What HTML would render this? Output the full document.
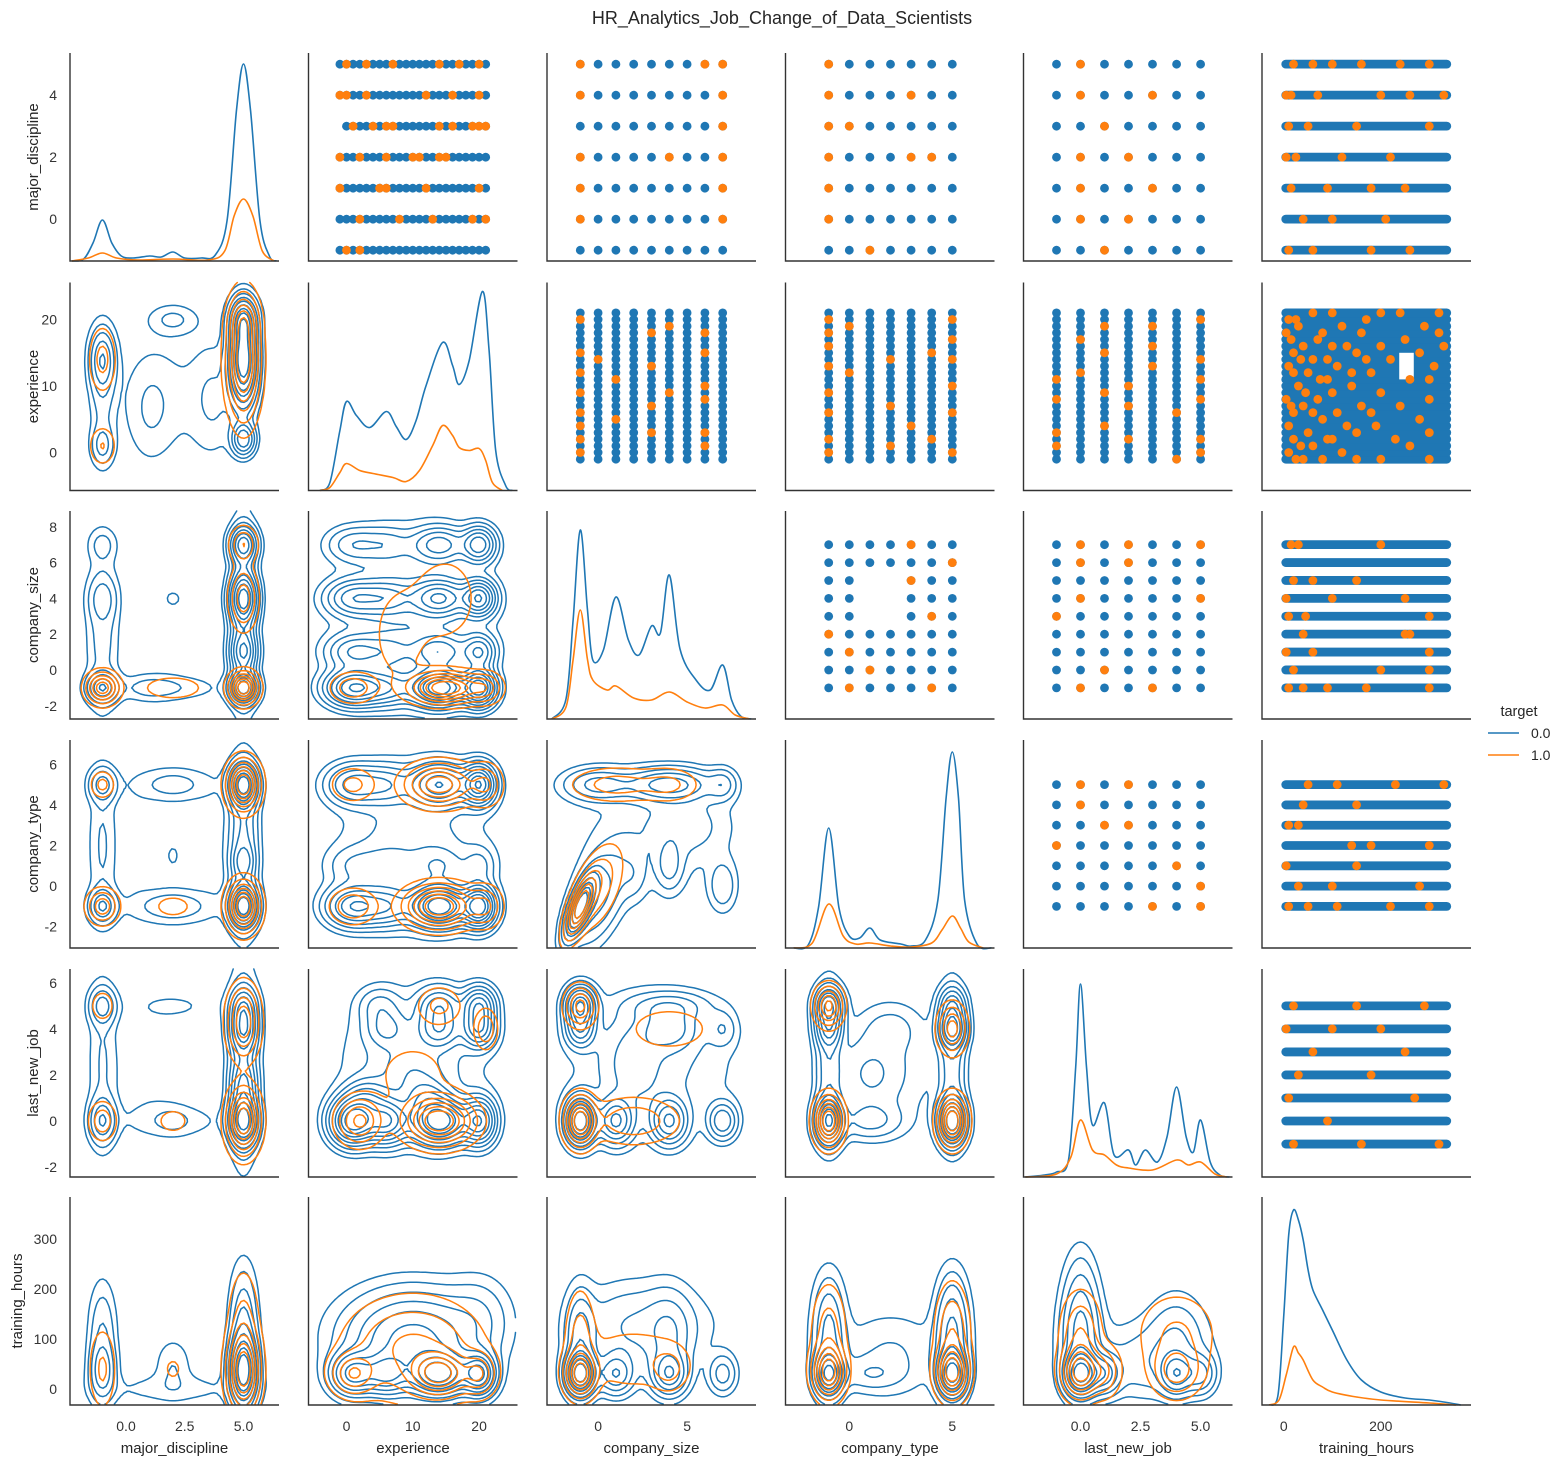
<!DOCTYPE html>
<html><head><meta charset="utf-8"><title>HR pairplot</title>
<style>
html,body{margin:0;padding:0;background:#fff;}
svg{display:block;font-family:"Liberation Sans",sans-serif;}
</style></head>
<body>
<svg id="chart" width="1565" height="1466" viewBox="0 0 1565 1466" xmlns="http://www.w3.org/2000/svg">
<text x="782" y="24" font-size="18" text-anchor="middle" fill="#262626">HR_Analytics_Job_Change_of_Data_Scientists</text>
<g>
<text x="1519" y="716" font-size="14.5" text-anchor="middle" fill="#262626">target</text>
<line x1="1488" y1="733" x2="1519" y2="733" stroke="#1f77b4" stroke-width="1.6"/>
<text x="1531" y="738" font-size="14" fill="#262626">0.0</text>
<line x1="1488" y1="755" x2="1519" y2="755" stroke="#ff7f0e" stroke-width="1.6"/>
<text x="1531" y="760" font-size="14" fill="#262626">1.0</text>
</g>
</svg>
<script>
const varNames = ["major_discipline","experience","company_size","company_type","last_new_job","training_hours"];
const xTicks = [[0,2.5,5],[0,10,20],[0,5],[0,5],[0,2.5,5],[0,200]];
const xTickLabels = [["0.0","2.5","5.0"],["0","10","20"],["0","5"],["0","5"],["0.0","2.5","5.0"],["0","200"]];
const yTicks = [[0,2,4],[0,10,20],[-2,0,2,4,6,8],[-2,0,2,4,6],[-2,0,2,4,6],[0,100,200,300]];
const xDomains = [[-2.38,6.51],[-5.73,25.79],[-2.87,8.87],[-3.1,7.05],[-2.375,6.33],[-45,386]];
const yDomains = [[-1.35,5.36],[-5.71,25.57],[-2.74,8.88],[-3.05,7.2],[-2.43,6.6],[-32,384]];
const levelsMd = [-1,0,1,2,3,4,5];
const levelsExp = [-1,0,1,2,3,4,5,6,7,8,9,10,11,12,13,14,15,16,17,18,19,20,21];
const levelsCs = [-1,0,1,2,3,4,5,6,7];
const levelsCt = [-1,0,1,2,3,4,5];
const levelsLnj = [-1,0,1,2,3,4,5];
const thRange = [4,336];

// diagonal KDE curves: [value, density]
const kde0Blue = [[-2.3,0],[-1.8,2],[-1.4,18],[-1,41],[-0.6,18],[-0.2,5],[0.3,3],[1,5],[1.5,4],[2,9],[2.5,3],[3.2,3],[3.8,6],[4.3,40],[4.7,150],[5,197],[5.3,150],[5.7,40],[6.1,5],[6.4,0]];
const kde0Orange = [[-2.3,0],[-1.6,3],[-1,8],[-0.4,3],[0.5,1],[2,2],[3.5,1],[4.2,10],[4.6,45],[5,62],[5.4,45],[5.8,10],[6.3,0]];
const kde1Blue = [[-4,0],[-2.5,8],[-1,60],[0,89],[1.5,75],[3.5,63],[6,79],[7.5,64],[9,51],[10.5,70],[12,105],[14.5,148],[16,125],[17,106],[18.5,130],[20.5,199],[21.5,140],[22.5,40],[24,5],[25,0]];
const kde1Orange = [[-4,0],[-2.5,3],[-1,18],[0,27],[2,20],[4,17],[7,13],[9,9],[11,20],[13,45],[14.5,65],[16,55],[17,43],[18.5,40],[20,42],[21,30],[22,8],[23.5,0]];
const kde2Blue = [[-2.6,0],[-1.8,20],[-1.4,100],[-1,189],[-0.6,110],[-0.3,59],[0.3,69],[1,122],[1.7,79],[2.3,64],[3,93],[3.5,86],[4,144],[4.6,70],[5.5,39],[6.3,29],[7,54],[7.5,19],[8,3],[8.6,0]];
const kde2Orange = [[-2.6,0],[-1.8,12],[-1.4,60],[-1,109],[-0.6,60],[-0.3,39],[0.5,29],[1,33],[2,21],[3,19],[4,27],[5,17],[6,11],[7,14],[7.7,4],[8.5,0]];
const kde3Blue = [[-2.7,0],[-2,3],[-1.5,40],[-1,120],[-0.5,40],[0,12],[0.5,10],[1,20],[1.5,8],[2.5,4],[3,2],[3.7,8],[4.3,48],[4.7,150],[5,196],[5.3,150],[5.6,48],[6.2,4],[6.9,0]];
const kde3Orange = [[-2.7,0],[-1.8,5],[-1,44],[-0.3,12],[0.3,4],[1,5],[2,2],[3,1],[4,5],[4.5,18],[5,32],[5.4,20],[5.8,6],[6.5,0]];
const kde4Blue = [[-2.3,0],[-1.5,2],[-1,5],[-0.5,17],[-0.2,110],[0,193],[0.25,110],[0.5,52],[1,74],[1.4,22],[2,27],[2.3,12],[2.7,27],[3.2,15],[3.6,40],[4,90],[4.4,40],[4.7,25],[5,57],[5.4,15],[5.8,2],[6.2,0]];
const kde4Orange = [[-2.3,0],[-1,3],[-0.4,20],[0,57],[0.5,27],[1,22],[1.5,12],[2,9],[3,7],[4,17],[4.5,12],[5,15],[5.6,3],[6.1,0]];
const kde5Blue = [[-30,0],[-12,10],[0,90],[10,170],[20,195],[30,185],[40,165],[50,135],[60,115],[80,95],[100,75],[130,45],[160,25],[200,13],[250,7],[300,5],[330,3],[365,0]];
const kde5Orange = [[-30,0],[-10,5],[5,30],[20,58],[30,52],[40,45],[60,25],[80,18],[100,13],[150,8],[200,5],[300,2],[355,0]];
const kdeDiag = [[kde0Blue,kde0Orange],[kde1Blue,kde1Orange],[kde2Blue,kde2Orange],[kde3Blue,kde3Orange],[kde4Blue,kde4Orange],[kde5Blue,kde5Orange]];

// lower-triangle KDE mixtures: [cx, cy, sx, sy, weight, rho]
const mix10B = [[5,14,0.35,4,8],[5,2,0.3,1.5,3],[5,20,0.35,2,4],[-1,14,0.35,3,2],[-1,1,0.3,1.8,1],[2,20,0.6,1.5,0.3],[1,6,0.6,5,0.3],[4,8,0.6,5,0.3],[1.5,8,1.2,6,0.35],[3.5,8,0.6,6,0.3],[2,20,0.8,1.5,0.3],[-1,8,0.35,6,0.6]];
const mix10O = [[5,14,0.4,5,3],[5,20,0.35,2,1],[-1,14,0.35,3,0.6],[-1,1,0.35,1.8,0.5],[2,14,0.1,0.3,0.02]];
const mix20B = [[5,-1,0.35,0.5,5],[5,4,0.35,0.8,4],[5,7,0.35,0.6,3],[5,1,0.35,0.7,2],[-1,-1,0.4,0.5,2],[-1,4,0.4,0.8,0.6],[-1,7,0.4,0.6,0.4],[2,7,0.4,0.4,0.15],[2,4,0.4,0.5,0.2],[1,-1,0.8,0.5,0.3],[2,1.5,1,1,0.1],[-1,2,0.45,3,0.5],[5,3,0.35,3,1.5],[2,-1,1.5,0.5,0.3]];
const mix20O = [[-1,-1,0.4,0.5,1.5],[5,-1,0.35,0.5,2],[2,-1,0.8,0.4,0.3],[5,4,0.35,1,0.8],[5,7,0.35,0.6,0.6]];
const mix30B = [[5,5,0.35,0.6,5],[5,-1,0.35,0.6,5],[5,1.2,0.3,0.5,1],[-1,5,0.35,0.5,1.2],[-1,-1,0.35,0.5,1.5],[2,1.5,0.3,0.6,0.2],[2,-1,0.8,0.5,0.2],[2,5,0.8,0.5,0.2],[-1,2,0.4,2.5,0.4],[5,2,0.4,2.5,1.2],[2,5,1.5,0.6,0.3],[2,-1,1.5,0.6,0.4],[0.5,2,0.4,1.5,0.1],[3.7,2,0.4,1.5,0.1]];
const mix30O = [[5,5,0.4,0.7,2],[5,-1,0.4,0.7,2],[-1,5,0.3,0.4,0.4],[-1,-1,0.4,0.5,0.8],[2,-1,0.6,0.4,0.2]];
const mix40B = [[5,0,0.35,0.6,5],[5,4,0.35,0.6,3],[5,5,0.35,0.5,2],[5,1.5,0.35,0.7,1.5],[-1,0,0.35,0.6,1.5],[-1,5,0.35,0.5,1.2],[2,0,0.5,0.4,0.2],[2,4,0.2,0.2,0.05],[1,2,1,1.5,0.15],[-1,2.5,0.4,2.5,0.4],[5,2.5,0.4,2.5,1.2],[2,5,1.5,0.5,0.2],[2,0,1.5,0.5,0.3]];
const mix40O = [[5,0,0.4,0.8,2],[5,4.3,0.4,0.9,1.2],[-1,0,0.35,0.5,0.5],[-1,5,0.3,0.4,0.3],[2,0,0.5,0.4,0.2]];
const mix50B = [[5,35,0.35,40,6],[5,80,0.35,80,2],[-1,35,0.35,35,1.5],[-1,80,0.35,80,0.5],[2,40,0.4,30,0.3],[5,320,0.1,10,0.05],[2,150,0.1,20,0.04],[-1,120,0.4,60,0.5],[2,60,0.8,50,0.2],[5,180,0.4,60,0.3],[2,0,2.5,20,0.3]];
const mix50O = [[5,35,0.4,45,2.5],[5,120,0.4,70,0.6],[-1,40,0.35,50,0.5],[2,40,0.4,25,0.2]];
const mix21B = [[1,-1,2.5,0.6,2],[1,1,2.5,0.6,0.8],[1,4,2.5,0.6,1],[1,7,2.5,0.6,0.5],[6,-1,2.5,0.6,1],[6,1,2.5,0.6,0.5],[6,4,2.5,0.6,0.8],[6,7,2.5,0.6,0.4],[14,-1,2.5,0.6,3],[14,1,2.5,0.6,1],[14,4,2.5,0.6,1.5],[14,7,2.5,0.6,1],[20,-1,1.5,0.6,3],[20,1,1.5,0.6,1.2],[20,4,1.5,0.6,2],[20,7,1.5,0.6,1.5],[10,3,7,3,0.35]];
const mix21O = [[15,-1,3,0.5,3],[21,-1,1.5,0.5,1],[1,-1,2,0.5,0.8],[15,4,3,1.5,0.4],[8,2,3,2,0.3]];
const mix31B = [[1,5,2.5,0.6,1],[6,5,2.5,0.6,0.7],[14,5,2.5,0.6,2],[20,5,1.5,0.6,2.5],[1,-1,2.5,0.6,1.5],[6,-1,2.5,0.6,1],[14,-1,2.5,0.6,3],[20,-1,1.5,0.6,3],[1,1,2.5,0.6,0.3],[6,1,2.5,0.6,0.3],[14,1,2.5,0.6,0.4],[20,1,1.5,0.6,0.4],[10,2,7,2.5,0.3]];
const mix31O = [[14,5,3,0.6,1.5],[14,-1,3,0.6,2],[1,-1,2,0.5,0.6],[1,5,2,0.5,0.4],[21,5,1.5,0.6,0.6],[21,-1,1.5,0.6,0.6]];
const mix41B = [[1,0,2,0.6,3],[6,0,2,0.6,2],[14,0,2.5,0.6,3],[20,0,1.5,0.6,2],[3,1,2,0.5,0.8],[12,1,2,0.5,0.7],[6,4,2,0.5,0.5],[14,4,2,0.5,1],[20,4,1.5,0.5,1.5],[14,5,2,0.5,1],[20,5,1.5,0.5,1.5],[5,5,2,0.5,0.4],[10,2,3,0.8,0.3],[10,2.5,7,2,0.3]];
const mix41O = [[14,0,3,0.6,2],[2,0,2,0.6,1],[21,4,1,0.5,0.6],[14,5,2,0.5,0.4],[10,2,4,1,0.2]];
const mix51B = [[1,30,2,25,2],[6,30,2,25,1.5],[14,30,2.5,25,3],[20,30,1.5,25,2.5],[10,90,6,60,1.5],[15,320,1,8,0.02],[20,150,3,50,0.3],[10,130,7,50,0.25]];
const mix51O = [[14,30,2.5,25,1.2],[1,30,2,25,0.6],[20,30,1.5,25,0.6],[10,80,6,60,0.5]];
const mix32B = [[-1,-1,0.5,0.9,4,0.7],[0,-0.5,1,1.5,1,0.5],[0,5,1.2,0.5,1],[4,5,1.5,0.5,1.5],[7,5,0.5,0.5,0.6],[4,1,0.5,0.8,0.6],[7,0,0.5,0.8,0.5],[2,0.5,0.5,0.8,0.3],[5,3,1.5,1,0.3],[3,2.5,3,2,0.2]];
const mix32O = [[-1,-1,0.5,0.9,2,0.7],[0,0,0.8,1.2,0.6,0.5],[1,5,1.5,0.5,0.5],[4,5,1,0.5,0.4]];
const mix42B = [[-1,0,0.5,0.6,3],[-1,5,0.5,0.5,2],[-1,4,0.5,0.5,1],[1,0,0.6,0.6,1.2],[4,0,0.6,0.6,1.2],[7,0,0.5,0.5,0.8],[4,4,1,0.6,0.6],[4,5,1.5,0.4,0.4],[2,2.5,1,1.2,0.3],[7,4,0.5,0.5,0.3],[3,2.5,3,2,0.25]];
const mix42O = [[-1,0,0.5,0.6,1.5],[-1,5,0.5,0.5,0.8],[2,0,1.5,0.6,0.4],[4,4,1.5,0.6,0.2]];
const mix52B = [[-1,30,0.5,25,4],[1,30,0.6,25,1.2],[4,30,0.6,25,1.5],[7,30,0.5,25,0.7],[-1,100,0.5,60,1],[4,100,0.8,60,0.6],[2,120,2,60,0.4],[-1,310,0.4,10,0.02],[4,310,0.4,10,0.02],[3,130,3,50,0.2]];
const mix52O = [[-1,30,0.5,25,2],[-1,100,0.5,60,0.5],[4,40,0.6,25,0.4],[2,60,2,40,0.3]];
const mix43B = [[-1,5,0.4,0.5,2],[-1,0,0.4,0.6,2.5],[-1,4,0.4,0.5,1],[5,4,0.4,0.5,2],[5,0,0.4,0.6,3],[5,5,0.4,0.5,1],[1,2,1,1,0.3],[2,4,0.8,0.6,0.2],[1,0,1,0.5,0.4],[2,2.5,2,2,0.15],[-1,2.5,0.4,2,0.5],[5,2.5,0.4,2,0.5]];
const mix43O = [[-1,5,0.4,0.5,1],[-1,0,0.4,0.6,1.5],[5,4,0.4,0.6,0.8],[5,0,0.4,0.6,1.5]];
const mix53B = [[-1,30,0.4,25,3],[5,30,0.4,25,4],[-1,100,0.5,70,1],[5,100,0.5,70,1.5],[1,30,1,20,0.4],[2,60,1.5,60,0.2],[-1,305,0.2,6,0.01],[2,80,2,50,0.15],[5,180,0.5,50,0.15],[-1,180,0.5,50,0.15]];
const mix53O = [[-1,35,0.45,30,1.5],[5,35,0.45,30,1.5],[-1,110,0.5,60,0.4],[5,110,0.5,60,0.5]];
const mix54B = [[0,30,0.4,25,4],[1,30,0.4,25,1.5],[4,30,0.4,25,1.5],[5,30,0.4,25,1],[0,110,0.5,70,1.5],[2.5,40,1,40,0.3],[4,100,0.8,60,0.5],[0,240,0.4,50,0.1],[2.5,80,2,50,0.2],[0,200,0.5,60,0.15]];
const mix54O = [[0,35,0.45,30,1.5],[1,35,0.4,30,0.5],[4,35,0.6,30,0.6],[0,110,0.5,50,0.5],[4,110,1,50,0.3]];
const blueLevels = [0.03,0.065,0.12,0.19,0.28,0.39,0.51,0.65,0.8];
const orangeLevels = [0.06,0.16,0.3,0.45,0.61,0.78];

// upper-triangle orange points [xValue, yValue]
const orange01 = [[0,5],[3,5],[7,5],[14,5],[17,5],[20,5],[-1,4],[0,4],[3,4],[12,4],[16,4],[20,4],[1,3],[4,3],[6,3],[7,3],[14,3],[16,3],[19,3],[20,3],[21,3],[-1,2],[2,2],[6,2],[10,2],[11,2],[14,2],[15,2],[-1,1],[5,1],[6,1],[12,1],[20,1],[2,0],[8,0],[13,0],[19,0],[21,0],[0,-1],[2,-1]];
const orange02 = [[-1,5],[7,5],[6,5],[-1,4],[7,4],[7,3],[-1,2],[4,2],[7,2],[-1,1],[7,1],[-1,0],[7,0]];
const orange03 = [[-1,5],[-1,4],[-1,3],[-1,2],[-1,1],[-1,0],[3,4],[3,2],[4,2],[0,3],[1,-1]];
const orange04 = [[0,5],[0,4],[0,2],[0,1],[0,0],[1,3],[2,2],[2,0],[3,4],[3,1],[1,-1]];
const orange12 = [[-1,0],[-1,2],[-1,4],[-1,6],[-1,9],[-1,12],[-1,15],[-1,20],[3,3],[3,7],[3,13],[3,18],[6,1],[6,3],[6,8],[6,10],[6,15],[6,18],[1,5],[1,11],[4,9],[4,19],[0,14]];
const orange13 = [[-1,0],[-1,2],[-1,6],[-1,9],[-1,13],[-1,16],[-1,18],[-1,20],[0,12],[0,19],[2,1],[2,7],[2,14],[3,4],[5,0],[5,6],[5,10],[5,14],[5,17],[5,20],[4,2],[4,15]];
const orange14 = [[-1,1],[-1,3],[-1,8],[-1,11],[0,12],[0,17],[1,4],[1,9],[1,15],[1,19],[2,2],[2,7],[2,10],[3,13],[3,16],[3,19],[4,-1],[4,6],[5,0],[5,2],[5,8],[5,11],[5,14],[5,20]];
const orange23 = [[3,7],[5,6],[3,5],[0,1],[1,0],[4,-1],[0,-1],[-1,2],[4,3]];
const missing23 = [[1,3],[1,4],[1,5],[2,3],[2,4],[2,5]];
const orange24 = [[0,7],[2,7],[5,7],[0,6],[0,4],[5,4],[-1,3],[1,0],[3,-1],[0,-1],[2,6]];
const orange34 = [[0,5],[2,5],[0,4],[1,3],[2,3],[-1,2],[4,1],[5,0],[3,-1],[5,-1]];
// training_hours panels: orange points [hours, level]
const orange05 = [[20,5],[60,5],[100,5],[160,5],[240,5],[300,5],[5,4],[15,4],[70,4],[200,4],[260,4],[330,4],[10,3],[50,3],[150,3],[300,3],[5,2],[25,2],[120,2],[220,2],[15,1],[90,1],[180,1],[250,1],[40,0],[100,0],[210,0],[10,-1],[60,-1],[180,-1],[260,-1]];
const orange15 = [[10,20],[60,21],[200,21],[240,21],[30,19],[120,19],[290,19],[5,18],[80,18],[160,18],[250,17],[40,16],[100,16],[200,16],[330,16],[20,15],[150,15],[280,15],[60,14],[220,14],[10,13],[110,13],[310,13],[50,12],[180,12],[90,11],[260,11],[30,10],[140,10],[200,9],[5,8],[70,8],[300,8],[40,7],[160,7],[240,7],[20,6],[110,6],[80,5],[280,5],[10,4],[190,4],[50,3],[150,3],[300,3],[20,2],[90,2],[230,2],[60,1],[260,1],[10,0],[120,0],[40,-1],[200,-1],[300,-1],[25,20],[100,21],[170,20],[320,21],[15,17],[70,17],[130,16],[35,14],[90,14],[170,14],[20,12],[75,11],[140,12],[45,9],[100,9],[15,7],[60,6],[130,4],[35,1],[80,-1],[25,-1],[150,-1],[100,2],[180,6],[300,11],[320,18]];
const gaps15 = [[238,268,11,15]];
const orange25 = [[15,7],[30,7],[200,7],[20,5],[150,5],[5,4],[100,4],[250,4],[10,3],[300,3],[40,2],[250,2],[260,2],[5,1],[60,1],[300,1],[20,0],[200,0],[300,0],[10,-1],[40,-1],[90,-1],[170,-1],[300,-1],[60,5],[45,3]];
const orange35 = [[50,5],[110,5],[230,5],[330,5],[40,4],[150,4],[10,3],[30,3],[140,2],[180,2],[300,2],[5,1],[150,1],[30,0],[100,0],[280,0],[10,-1],[50,-1],[110,-1],[220,-1],[300,-1]];
const orange45 = [[20,5],[150,5],[290,5],[5,4],[100,4],[200,4],[60,3],[250,3],[30,2],[180,2],[10,1],[270,1],[90,0],[20,-1],[160,-1],[320,-1]];

const BLUE="#1f77b4", ORANGE="#ff7f0e", NS="http://www.w3.org/2000/svg";
const colX=[70,308.5,547,785.5,1023.5,1262], rowY=[53,282.5,511,740,969,1197], PW=209, PH=208;
const svg=document.getElementById("chart");
function el(tag,attrs,parent){const e=document.createElementNS(NS,tag);for(const k in attrs)e.setAttribute(k,attrs[k]);(parent||svg).appendChild(e);return e;}
function sx(c,v){const d=xDomains[c];return colX[c]+(v-d[0])/(d[1]-d[0])*PW;}
function sy(r,v){const d=yDomains[r];return rowY[r]+PH-(v-d[0])/(d[1]-d[0])*PH;}
function smoothPath(pts){let s="M"+pts[0][0].toFixed(1)+","+pts[0][1].toFixed(1);
 for(let i=0;i<pts.length-1;i++){const p0=pts[Math.max(0,i-1)],p1=pts[i],p2=pts[i+1],p3=pts[Math.min(pts.length-1,i+2)];
 const c1=[p1[0]+(p2[0]-p0[0])/6,p1[1]+(p2[1]-p0[1])/6],c2=[p2[0]-(p3[0]-p1[0])/6,p2[1]-(p3[1]-p1[1])/6];
 s+="C"+c1[0].toFixed(1)+","+c1[1].toFixed(1)+" "+c2[0].toFixed(1)+","+c2[1].toFixed(1)+" "+p2[0].toFixed(1)+","+p2[1].toFixed(1);}return s;}
function dens(mix,x,y){let s=0;for(const m of mix){const dx=(x-m[0])/m[2],dy=(y-m[1])/m[3],r=m[5]||0;
 s+=m[4]*Math.exp(-0.5*(dx*dx-2*r*dx*dy+dy*dy)/(1-r*r));}return s;}
function contourPath(r,c,mix,fracs){const step=3,nx=Math.floor(PW/step)+1,ny=Math.floor(PH/step)+1;const g=[];let mx=0;
 for(let j=0;j<ny;j++){g.push([]);for(let i=0;i<nx;i++){const px=colX[c]+i*step,py=rowY[r]+j*step;
 const xd=xDomains[c],yd=yDomains[r];const xv=xd[0]+(px-colX[c])/PW*(xd[1]-xd[0]);const yv=yd[0]+(rowY[r]+PH-py)/PH*(yd[1]-yd[0]);
 const v=dens(mix,xv,yv);g[j].push(v);if(v>mx)mx=v;}}
 let d="";
 for(const f of fracs){const L=f*mx;
  for(let j=0;j<ny-1;j++)for(let i=0;i<nx-1;i++){const a=g[j][i],b=g[j][i+1],cc=g[j+1][i+1],dd=g[j+1][i];
   const idx=(a>L?8:0)|(b>L?4:0)|(cc>L?2:0)|(dd>L?1:0);if(idx===0||idx===15)continue;
   const x0=colX[c]+i*step,y0=rowY[r]+j*step;
   const T=[x0+step*(L-a)/(b-a),y0],R=[x0+step,y0+step*(L-b)/(cc-b)],B=[x0+step*(L-dd)/(cc-dd),y0+step],Lf=[x0,y0+step*(L-a)/(dd-a)];
   const segs={1:[[Lf,B]],2:[[B,R]],3:[[Lf,R]],4:[[T,R]],5:[[Lf,T],[B,R]],6:[[T,B]],7:[[Lf,T]],8:[[Lf,T]],9:[[T,B]],10:[[T,R],[Lf,B]],11:[[T,R]],12:[[Lf,R]],13:[[B,R]],14:[[Lf,B]]}[idx];
   for(const s of segs)d+="M"+s[0][0].toFixed(1)+","+s[0][1].toFixed(1)+"L"+s[1][0].toFixed(1)+","+s[1][1].toFixed(1);}}
 return d;}
const levelSets=[levelsMd,levelsExp,levelsCs,levelsCt,levelsLnj];
function dot(g,x,y,color){return el("circle",{cx:x.toFixed(1),cy:y.toFixed(1),r:4.4,fill:color},g);}
const uppers={"0_1":orange01,"0_2":orange02,"0_3":orange03,"0_4":orange04,"1_2":orange12,"1_3":orange13,"1_4":orange14,"2_3":orange23,"2_4":orange24,"3_4":orange34};
const thOr=[orange05,orange15,orange25,orange35,orange45];
const mixes={"1_0":[mix10B,mix10O],"2_0":[mix20B,mix20O],"3_0":[mix30B,mix30O],"4_0":[mix40B,mix40O],"5_0":[mix50B,mix50O],"2_1":[mix21B,mix21O],"3_1":[mix31B,mix31O],"4_1":[mix41B,mix41O],"5_1":[mix51B,mix51O],"3_2":[mix32B,mix32O],"4_2":[mix42B,mix42O],"5_2":[mix52B,mix52O],"4_3":[mix43B,mix43O],"5_3":[mix53B,mix53O],"5_4":[mix54B,mix54O]};

for(let r=0;r<6;r++)for(let c=0;c<6;c++){
 const g=el("g",{});
 
 
 const bottom=rowY[r]+PH;
 if(r===c){
  const pair=kdeDiag[r];const cols=[BLUE,ORANGE];
  for(let h=0;h<2;h++){const pts=pair[h].map(p=>[sx(c,p[0]),bottom-p[1]]);
   const p=el("path",{d:smoothPath(pts),fill:"none",stroke:cols[h],"stroke-width":1.6},g);
   
   }
 } else if(r>c){
  const m=mixes[r+"_"+c];
  const pb=el("path",{d:contourPath(r,c,m[0],blueLevels),fill:"none",stroke:BLUE,"stroke-width":1.5,"stroke-linecap":"round"},g);
  
  
  const po=el("path",{d:contourPath(r,c,m[1],orangeLevels),fill:"none",stroke:ORANGE,"stroke-width":1.5,"stroke-linecap":"round"},g);
  
  
 } else if(c<5){
  const xs=levelSets[c],ys=levelSets[r];const miss=(r===2&&c===3)?missing23:[];
  const bg=el("g",{},g);
  
  
  for(const yv of ys)for(const xv of xs){
   if(r===0&&c===1&&yv===3&&xv<0)continue;
   if(miss.some(q=>q[0]===xv&&q[1]===yv))continue;
   dot(bg,sx(c,xv),sy(r,yv),BLUE);}
  const og=el("g",{},g);
  
  
  for(const p of uppers[r+"_"+c])dot(og,sx(c,p[0]),sy(r,p[1]),ORANGE);
 } else {
  const ys=levelSets[r];
  const bg=el("g",{},g);
  
  
  for(const yv of ys){el("line",{x1:sx(5,thRange[0]),x2:sx(5,thRange[1]),y1:sy(r,yv),y2:sy(r,yv),stroke:BLUE,"stroke-width":8.8,"stroke-linecap":"round"},bg);}
  if(r===1){for(const q of gaps15){el("rect",{x:sx(5,q[0]),y:sy(1,q[3]),width:sx(5,q[1])-sx(5,q[0]),height:sy(1,q[2])-sy(1,q[3]),fill:"#fff"},bg);}}
  const og=el("g",{},g);
  
  
  for(const p of thOr[r])dot(og,sx(5,p[0]),sy(r,p[1]),ORANGE);
 }
 const ax=el("path",{d:"M"+colX[c]+","+rowY[r]+"V"+bottom+"H"+(colX[c]+PW),fill:"none",stroke:"#333","stroke-width":1.4},g);
 
 
 if(c===0){
  yTicks[r].forEach(t=>{const tx=el("text",{x:57,y:(sy(r,t)+5).toFixed(1),"font-size":14,"text-anchor":"end",fill:"#333"},g);tx.textContent=t;
   
   });
  const lx=r===5?22:38,ly=rowY[r]+PH/2;
  const yl=el("text",{x:lx,y:ly,"font-size":15,"text-anchor":"middle",fill:"#262626",transform:"rotate(-90 "+lx+" "+ly+")"},g);
  yl.textContent=varNames[r];
  
  
 }
 if(r===5){
  xTicks[c].forEach((t,i)=>{const tx=el("text",{x:sx(c,t).toFixed(1),y:1431,"font-size":14,"text-anchor":"middle",fill:"#333"},g);tx.textContent=xTickLabels[c][i];
   
   });
  const xl=el("text",{x:colX[c]+PW/2,y:1453,"font-size":15,"text-anchor":"middle",fill:"#262626"},g);
  xl.textContent=varNames[c];
  
  
 }
}
</script>
</body></html>
